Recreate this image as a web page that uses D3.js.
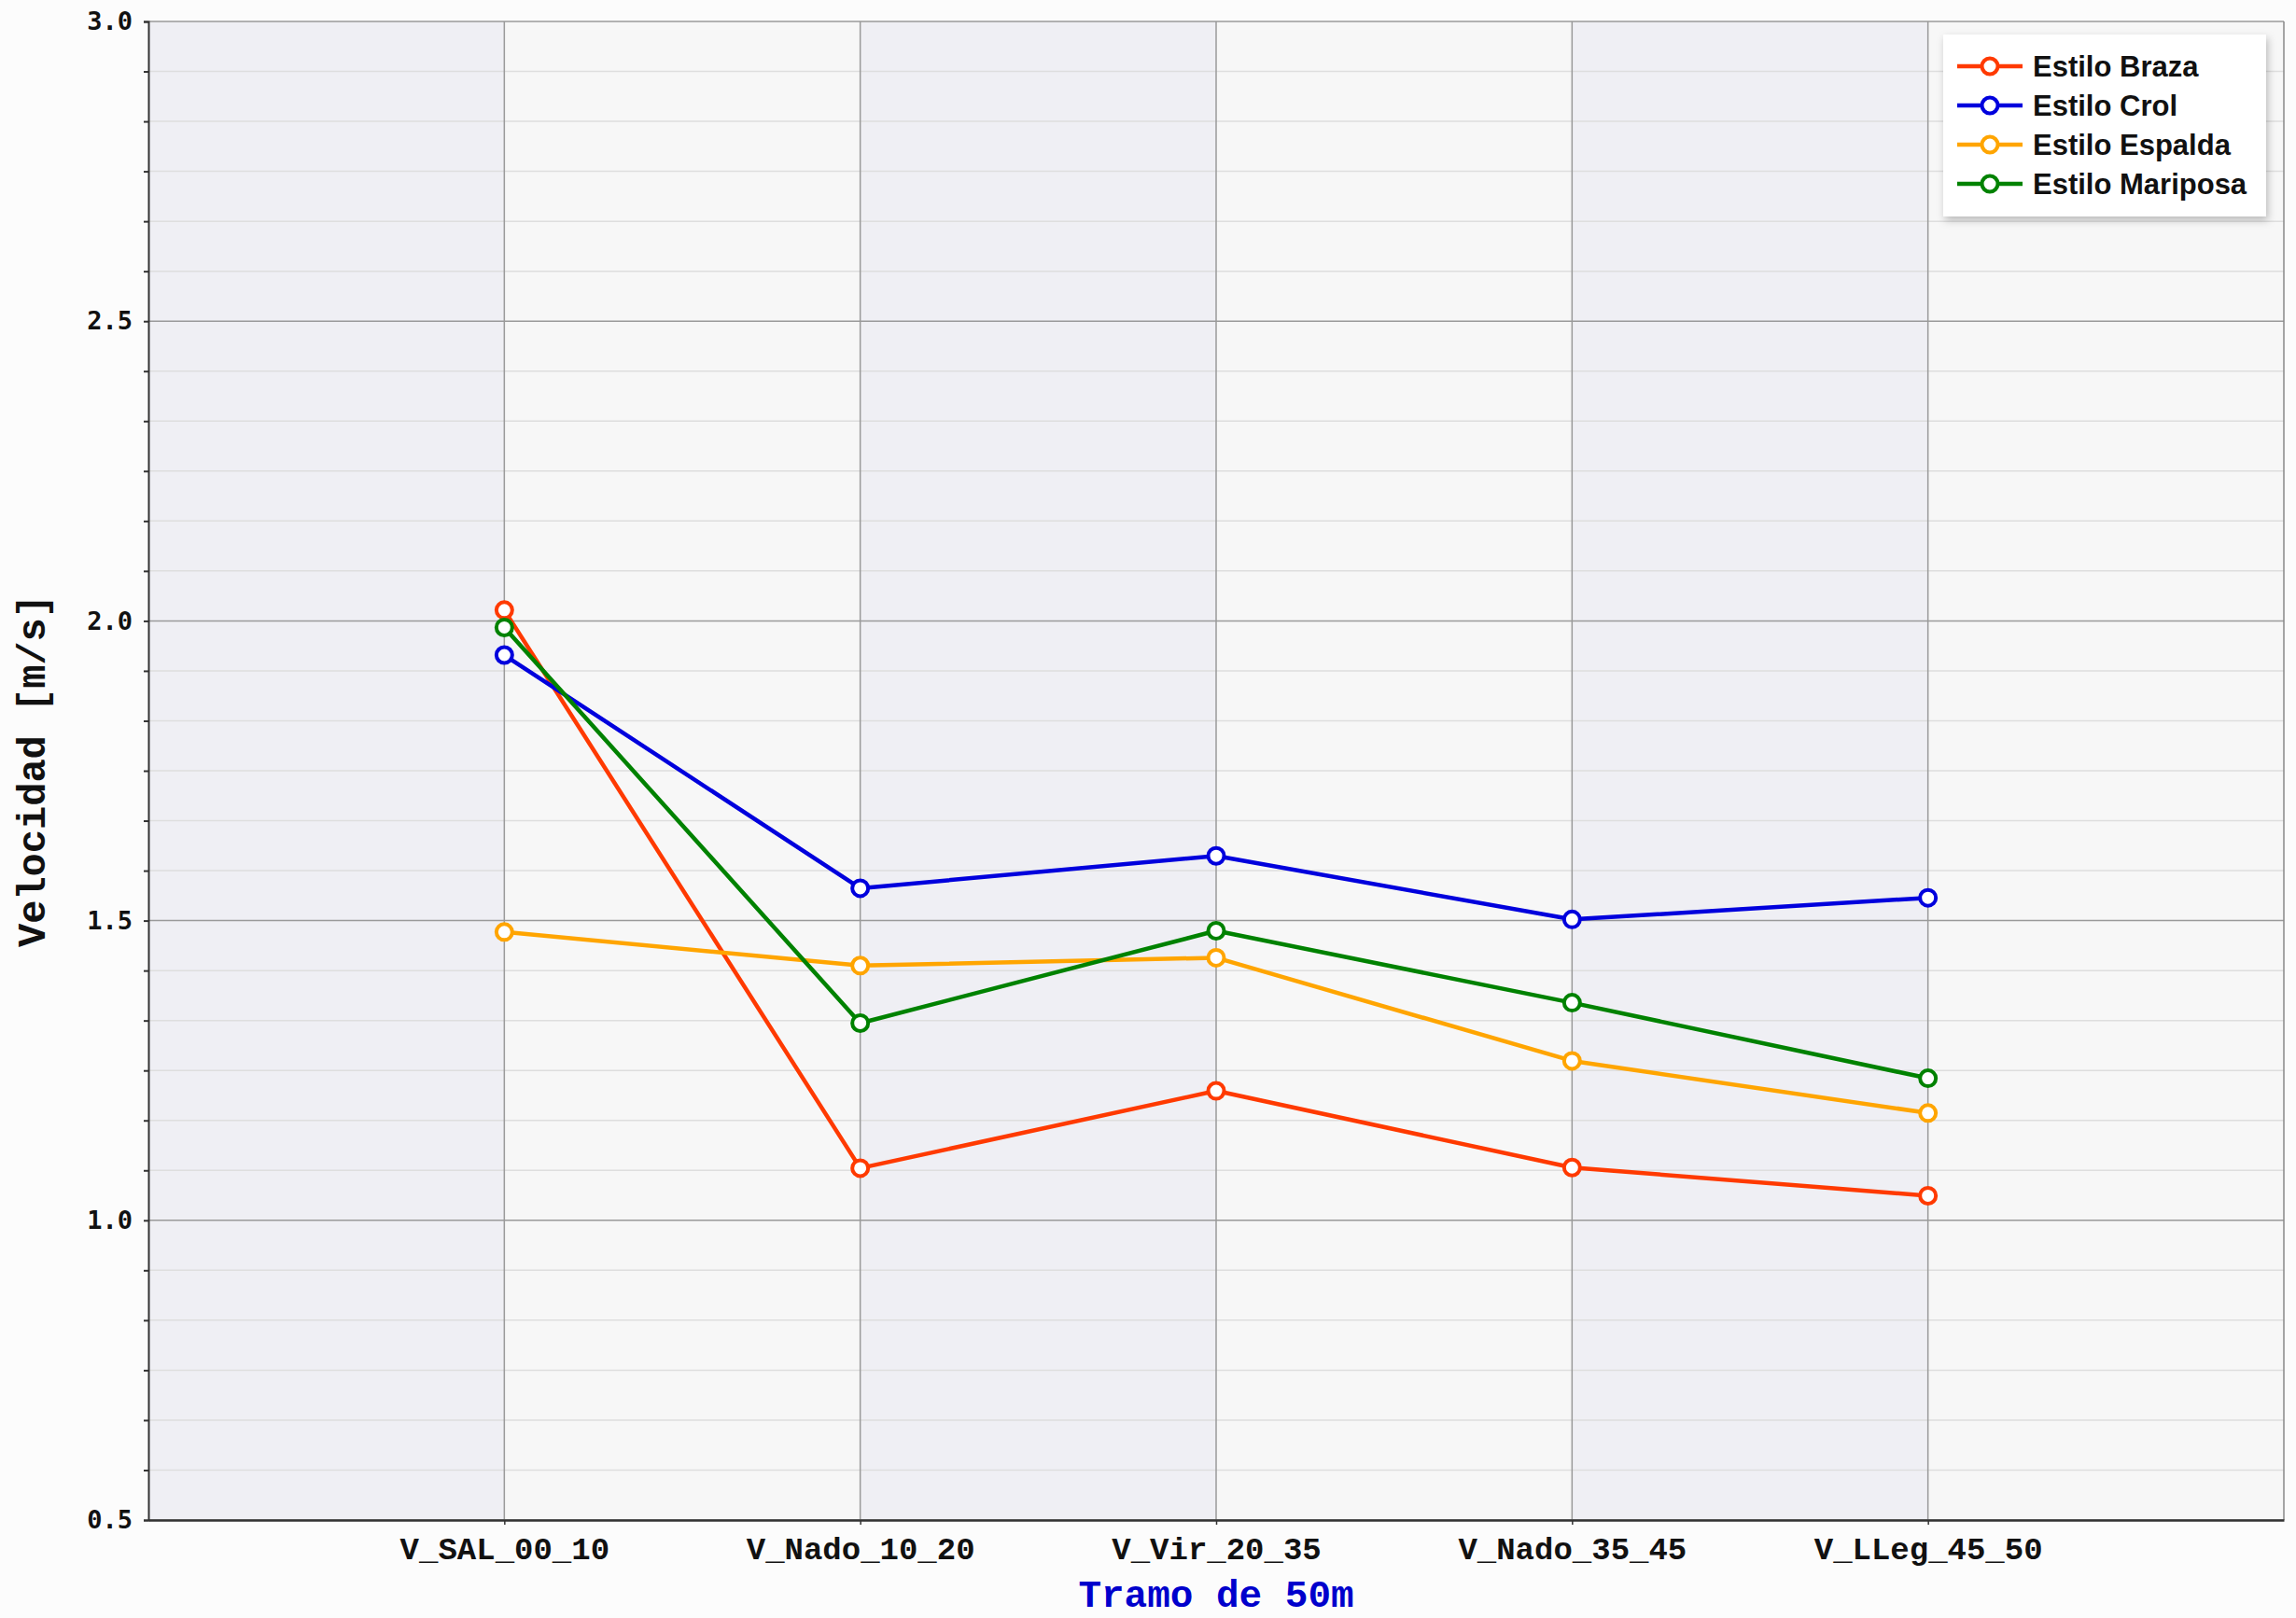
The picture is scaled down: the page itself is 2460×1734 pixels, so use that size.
<!DOCTYPE html>
<html>
<head>
<meta charset="utf-8">
<script src="https://cdn.jsdelivr.net/npm/d3@7"></script>
<style>
  body { margin: 0; background: #fcfcfc; }
  svg { display: block; }
</style>
</head>
<body>
<div id="chart"></div>
<script>
const tramos = ["V_SAL_00_10", "V_Nado_10_20", "V_Vir_20_35", "V_Nado_35_45", "V_LLeg_45_50"];
const estilos = ["Estilo Braza", "Estilo Crol", "Estilo Espalda", "Estilo Mariposa"];
const braza = [2.018, 1.087, 1.216, 1.088, 1.041];
const crol = [1.943, 1.554, 1.608, 1.502, 1.538];
const espalda = [1.481, 1.425, 1.438, 1.266, 1.179];
const mariposa = [1.989, 1.329, 1.483, 1.363, 1.237];
const colores = ["#ff3a00", "#0000dd", "#ffa500", "#008200"];
const yTicks = [0.5, 1.0, 1.5, 2.0, 2.5, 3.0];

const series = [braza, crol, espalda, mariposa];

const W = 2460, H = 1734;
const margin = {top: 23, right: 13, bottom: 105, left: 159};

const svg = d3.select("#chart").append("svg").attr("width", W).attr("height", H);

const x = d3.scalePoint().domain(tramos).range([margin.left, W - margin.right]).padding(1);
const y = d3.scaleLinear().domain([0.5, 3.0]).range([H - margin.bottom, margin.top]);

// shaded vertical bands
const step = x.step();
const bands = d3.range(tramos.length + 1);
svg.append("g").selectAll("rect").data(bands).join("rect")
    .attr("x", k => margin.left + k * step)
    .attr("y", margin.top)
    .attr("width", step)
    .attr("height", y(0.5) - y(3.0))
    .attr("fill", k => k % 2 === 0 ? "#efeff4" : "#f7f7f7");

// minor ticks: 6 subdivisions per 0.5
const allTicks = d3.range(0, 31).map(i => 0.5 + i * 0.5 / 6);
const minor = allTicks.filter((v, i) => i % 6 !== 0);

// minor gridlines
svg.append("g").selectAll("line").data(minor).join("line")
    .attr("x1", margin.left).attr("x2", W - margin.right)
    .attr("y1", d => y(d)).attr("y2", d => y(d))
    .attr("stroke", "#dedede").attr("stroke-width", 1.5);

// major gridlines
svg.append("g").selectAll("line").data(yTicks).join("line")
    .attr("x1", margin.left).attr("x2", W - margin.right)
    .attr("y1", d => y(d)).attr("y2", d => y(d))
    .attr("stroke", "#9a9a9a").attr("stroke-width", 1.5);

// vertical gridlines
svg.append("g").selectAll("line").data(tramos).join("line")
    .attr("x1", d => x(d)).attr("x2", d => x(d))
    .attr("y1", margin.top).attr("y2", y(0.5))
    .attr("stroke", "#9a9a9a").attr("stroke-width", 1.5);

// right border
svg.append("line")
    .attr("x1", W - margin.right).attr("x2", W - margin.right)
    .attr("y1", margin.top).attr("y2", y(0.5))
    .attr("stroke", "#888").attr("stroke-width", 1.5);

// y axis
const yAxis = svg.append("g")
    .attr("transform", `translate(${margin.left},0)`)
    .call(d3.axisLeft(y).tickValues(allTicks).tickSize(5)
        .tickFormat((d, i) => i % 6 === 0 ? d3.format(".1f")(d) : ""));
yAxis.select(".domain").attr("stroke", "#333").attr("stroke-width", 2);
yAxis.selectAll(".tick line").attr("stroke", "#333").attr("stroke-width", 2);
yAxis.selectAll(".tick text")
    .attr("x", -17)
    .attr("font-family", "DejaVu Sans Mono")
    .attr("font-weight", "bold")
    .attr("font-size", 27)
    .attr("fill", "#111");

// x axis
const xAxis = svg.append("g")
    .attr("transform", `translate(0,${y(0.5)})`)
    .call(d3.axisBottom(x).tickSize(5).tickSizeOuter(0));
xAxis.select(".domain").attr("stroke", "#333").attr("stroke-width", 2.5);
xAxis.selectAll(".tick line").attr("stroke", "#333").attr("stroke-width", 1.5);
xAxis.selectAll(".tick text")
    .attr("y", 18)
    .attr("font-family", "Liberation Mono")
    .attr("font-weight", "bold")
    .attr("font-size", 34)
    .attr("fill", "#111");

// axis titles
svg.append("text")
    .attr("x", (margin.left + W - margin.right) / 2)
    .attr("y", 1722)
    .attr("text-anchor", "middle")
    .attr("font-family", "Liberation Mono")
    .attr("font-weight", "bold")
    .attr("font-size", 41)
    .attr("fill", "#0000cc")
    .text("Tramo de 50m");

svg.append("text")
    .attr("transform", `translate(48,${(y(0.5) + y(3.0)) / 2}) rotate(-90)`)
    .attr("text-anchor", "middle")
    .attr("font-family", "Liberation Mono")
    .attr("font-weight", "bold")
    .attr("font-size", 42)
    .attr("fill", "#111")
    .text("Velocidad [m/s]");

// lines and markers
const line = d3.line().x((d, i) => x(tramos[i])).y(d => y(d));
series.forEach((vals, s) => {
  svg.append("path")
      .datum(vals)
      .attr("d", line)
      .attr("fill", "none")
      .attr("stroke", colores[s])
      .attr("stroke-width", 4.5)
      .attr("stroke-linejoin", "round");
});
series.forEach((vals, s) => {
  svg.append("g").selectAll("circle").data(vals).join("circle")
      .attr("cx", (d, i) => x(tramos[i]))
      .attr("cy", d => y(d))
      .attr("r", 8.5)
      .attr("fill", "#fff")
      .attr("stroke", colores[s])
      .attr("stroke-width", 4);
});

// legend
const defs = svg.append("defs");
const f = defs.append("filter").attr("id", "shadow").attr("x", -0.1).attr("y", -0.1).attr("width", 1.3).attr("height", 1.3);
f.append("feDropShadow").attr("dx", 2).attr("dy", 4).attr("stdDeviation", 4).attr("flood-color", "#000").attr("flood-opacity", 0.25);

const legend = svg.append("g").attr("transform", "translate(2082,37)");
legend.append("rect")
    .attr("width", 346).attr("height", 195)
    .attr("fill", "#fff")
    .attr("filter", "url(#shadow)");
estilos.forEach((name, i) => {
  const g = legend.append("g").attr("transform", `translate(0,${34 + i * 42})`);
  g.append("line").attr("x1", 15).attr("x2", 85).attr("stroke", colores[i]).attr("stroke-width", 4.5);
  g.append("circle").attr("cx", 50).attr("r", 8.5).attr("fill", "#fff").attr("stroke", colores[i]).attr("stroke-width", 4);
  g.append("text")
      .attr("x", 96).attr("dy", "0.35em")
      .attr("font-family", "Liberation Sans")
      .attr("font-weight", "bold")
      .attr("font-size", 31)
      .attr("fill", "#111")
      .text(name);
});
</script>
</body>
</html>
